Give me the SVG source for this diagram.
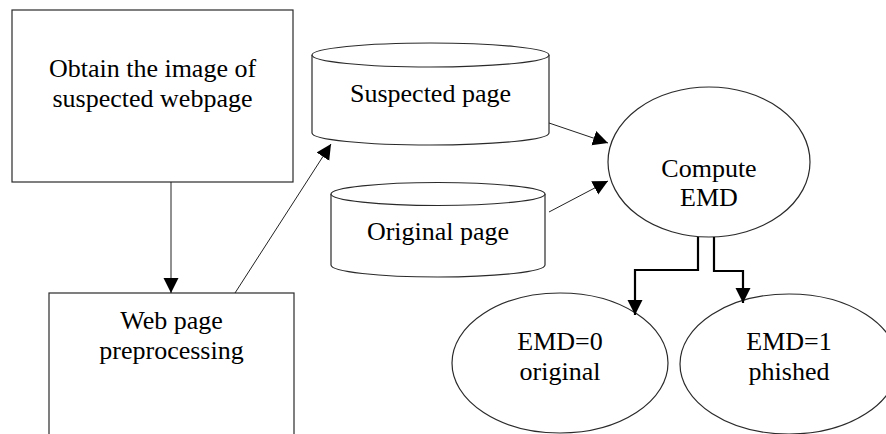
<svg xmlns="http://www.w3.org/2000/svg" width="886" height="434" viewBox="0 0 886 434">
  <defs>
    <style>
      .shape { fill: #ffffff; stroke: #2a2a2a; stroke-width: 1.2; }
      .label { font-family: "Liberation Serif", "Times New Roman", serif; font-size: 26px; fill: #000000; text-anchor: middle; }
      .thin { fill: none; stroke: #222222; stroke-width: 1; }
      .bold { fill: none; stroke: #000000; stroke-width: 2.2; }
    </style>
    <marker id="arrowhead" markerUnits="userSpaceOnUse" markerWidth="16" markerHeight="16" refX="15" refY="8" orient="auto" viewBox="0 0 16 16">
      <path d="M0,0.5 L15,8 L0,15.5 Z" fill="#000000"/>
    </marker>
  </defs>

  <rect width="886" height="434" fill="#ffffff"/>

  <!-- step: capture page image -->
  <g id="obtain-image">
    <rect class="shape" x="12" y="10" width="281" height="172"/>
    <text class="label" x="152.5" y="77">Obtain the image of</text>
    <text class="label" x="152.5" y="107">suspected webpage</text>
  </g>

  <!-- step: preprocessing (box runs past the lower edge) -->
  <g id="preprocessing">
    <rect class="shape" x="49" y="293" width="245" height="160"/>
    <text class="label" x="171.5" y="329">Web page</text>
    <text class="label" x="171.5" y="359">preprocessing</text>
  </g>

  <!-- store: suspected page -->
  <g id="suspected-page">
    <path class="shape" d="M312,55 A118.5,12 0 0 1 549,55 L549,133 A118.5,12 0 0 1 312,133 Z"/>
    <path class="shape" fill="none" d="M312,55 A118.5,12 0 0 0 549,55"/>
    <text class="label" x="430.5" y="102">Suspected page</text>
  </g>

  <!-- store: original page -->
  <g id="original-page">
    <path class="shape" d="M331,194 A107,11.5 0 0 1 545,194 L545,265 A107,12 0 0 1 331,265 Z"/>
    <path class="shape" fill="none" d="M331,194 A107,11.5 0 0 0 545,194"/>
    <text class="label" x="438" y="240">Original page</text>
  </g>

  <!-- process: EMD computation -->
  <g id="compute-emd">
    <ellipse class="shape" cx="709" cy="162" rx="101" ry="75"/>
    <text class="label" x="709" y="177">Compute</text>
    <text class="label" x="709" y="206">EMD</text>
  </g>

  <!-- outcome: original -->
  <g id="result-original">
    <ellipse class="shape" cx="560" cy="363" rx="108" ry="70"/>
    <text class="label" x="560" y="350">EMD=0</text>
    <text class="label" x="560" y="380">original</text>
  </g>

  <!-- outcome: phished -->
  <g id="result-phished">
    <ellipse class="shape" cx="789" cy="364" rx="109" ry="70"/>
    <text class="label" x="789" y="350">EMD=1</text>
    <text class="label" x="789" y="380">phished</text>
  </g>

  <g id="connectors">
    <line class="thin" x1="171" y1="182" x2="171" y2="293" marker-end="url(#arrowhead)"/>
    <line class="thin" x1="235" y1="293" x2="331" y2="144" marker-end="url(#arrowhead)"/>
    <line class="thin" x1="549" y1="123" x2="608" y2="143" marker-end="url(#arrowhead)"/>
    <line class="thin" x1="549" y1="212" x2="608" y2="181" marker-end="url(#arrowhead)"/>
    <polyline class="bold" points="698,237 698,270 635,270 635,315" marker-end="url(#arrowhead)"/>
    <polyline class="bold" points="714,237 714,271 743,271 743,303" marker-end="url(#arrowhead)"/>
  </g>
</svg>
